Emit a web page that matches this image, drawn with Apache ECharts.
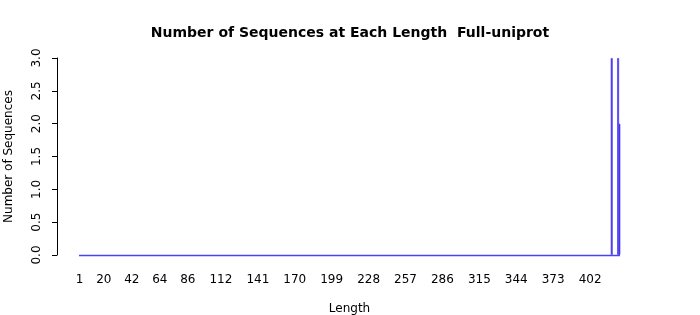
<!DOCTYPE html>
<html>
<head>
<meta charset="utf-8">
<script src="https://cdn.jsdelivr.net/npm/echarts@6/dist/echarts.min.js"></script>
<style>html,body{margin:0;padding:0;background:#fff}#c{width:700px;height:315px}</style>
</head>
<body>
<div id="c"></div>
<script>
// Data: sequence lengths present, and the number of sequences at each
const lengths = [419, 424, 425];
const counts = [3, 3, 2];
// Axis extent (lengths 1..425) and the tick labels shown
const minLength = 1;
const maxLength = 425;
const xTickLabels = [1, 20, 42, 64, 86, 112, 141, 170, 199, 228, 257, 286, 315, 344, 373, 402];
const yTicks = [0, 0.5, 1, 1.5, 2, 2.5, 3];

const seriesData = lengths.map((l, i) => [l, counts[i]]);
const font = 'DejaVu Sans';

const chart = echarts.init(document.getElementById('c'));
chart.setOption({
  animation: false,
  title: {
    text: 'Number of Sequences at Each Length  Full-uniprot',
    left: 'center', top: 21,
    textStyle: { fontFamily: font, fontSize: 14, fontWeight: 'bold', color: '#000' }
  },
  grid: { left: 79, right: 80, top: 58, bottom: 60, outerBoundsMode: 'none', containLabel: false },
  xAxis: {
    type: 'value',
    min: minLength - 0.5, max: maxLength + 0.5,
    name: 'Length', nameLocation: 'middle', nameGap: 48,
    nameTextStyle: { fontFamily: font, fontSize: 12, color: '#000' },
    axisLine: { show: false },
    axisTick: { show: false },
    splitLine: { show: false },
    axisLabel: {
      customValues: xTickLabels,
      fontFamily: font, fontSize: 12, color: '#000', margin: 19
    }
  },
  yAxis: {
    type: 'value',
    min: yTicks[0], max: yTicks[yTicks.length - 1], interval: 0.5,
    offset: 22,
    name: 'Number of Sequences', nameLocation: 'middle', nameGap: 42,
    nameTextStyle: { fontFamily: font, fontSize: 12, color: '#000' },
    axisLine: { show: true, lineStyle: { color: '#000', width: 1 } },
    axisTick: { show: true, length: 5, lineStyle: { color: '#000' } },
    splitLine: { show: false },
    axisLabel: {
      rotate: 90, fontFamily: font, fontSize: 12, color: '#000', margin: 14,
      formatter: v => v.toFixed(1)
    }
  },
  series: [{
    type: 'bar',
    data: seriesData,
    barWidth: 2,
    itemStyle: { color: '#4800d4', borderColor: '#5252ff', borderWidth: 0.8 },
    markLine: {
      silent: true, symbol: 'none', label: { show: false },
      lineStyle: { color: '#4545f6', type: 'solid', width: 1.3 },
      data: [{ yAxis: 0 }]
    }
  }]
});
</script>
</body>
</html>
